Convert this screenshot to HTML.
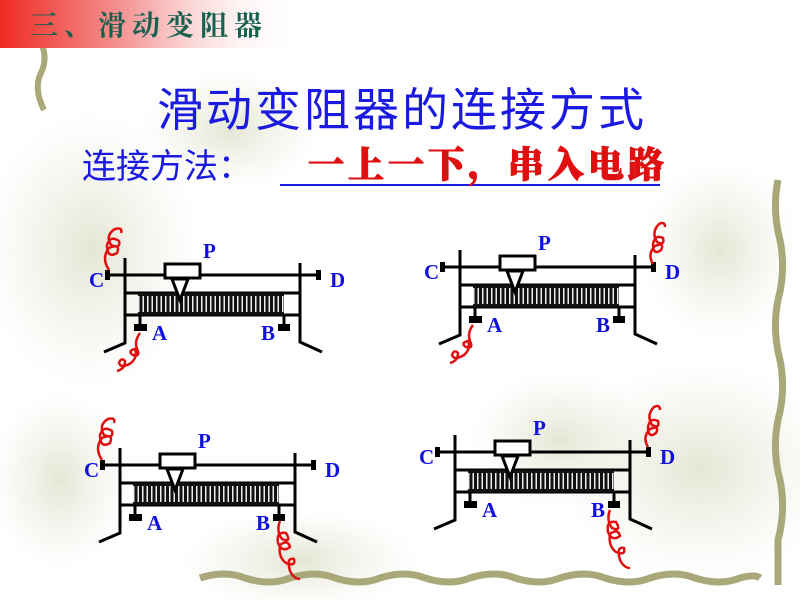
<!DOCTYPE html>
<html><head><meta charset="utf-8"><style>
html,body{margin:0;padding:0;width:800px;height:600px;overflow:hidden;background:#fff}
svg{display:block}
</style></head><body>
<svg width="800" height="600" viewBox="0 0 800 600" xmlns="http://www.w3.org/2000/svg">
<defs>
<linearGradient id="bar" x1="0" x2="1" y1="0" y2="0">
<stop offset="0" stop-color="#ee2a22"/><stop offset="0.45" stop-color="#f6a0a0"/><stop offset="1" stop-color="#ffffff" stop-opacity="0"/>
</linearGradient>
<radialGradient id="blob"><stop offset="0" stop-color="#d8dbc2" stop-opacity="0.7"/><stop offset="1" stop-color="#e6e8d8" stop-opacity="0"/></radialGradient>
<pattern id="coil" width="4.5" height="24" patternUnits="userSpaceOnUse"><rect width="4.5" height="24" fill="#eee"/><rect width="3" height="24" fill="#111"/></pattern>
<g id="rh">
<path d="M125 258 V343 L104 352" fill="none" stroke="#000" stroke-width="3"/>
<path d="M300 263 V342 L322 352" fill="none" stroke="#000" stroke-width="3"/>
<line x1="108" y1="275" x2="318" y2="275" stroke="#000" stroke-width="3"/>
<rect x="105" y="270" width="5" height="10" fill="#000"/>
<rect x="316" y="270" width="5" height="10" fill="#000"/>
<line x1="125" y1="293" x2="300" y2="293" stroke="#000" stroke-width="3"/>
<line x1="125" y1="315" x2="300" y2="315" stroke="#000" stroke-width="3"/>
<rect x="138" y="293" width="146" height="22" fill="url(#coil)"/>
<rect x="138" y="293" width="146" height="3" fill="#111"/>
<rect x="138" y="312" width="146" height="3" fill="#111"/>
<rect x="165" y="264" width="35" height="14" fill="#fff" stroke="#000" stroke-width="3"/>
<path d="M172 279 L188 279 L180 300 Z" fill="#fff" stroke="#000" stroke-width="3"/>
<line x1="140" y1="315" x2="140" y2="324" stroke="#000" stroke-width="3"/>
<rect x="134" y="324" width="13" height="7" fill="#000"/>
<line x1="284" y1="315" x2="284" y2="324" stroke="#000" stroke-width="3"/>
<rect x="278" y="324" width="12" height="7" fill="#000"/>
<g font-family="'Liberation Serif',serif" font-weight="bold" font-size="21" fill="#1010e0">
<text x="89" y="287">C</text><text x="330" y="287">D</text>
<text x="203" y="258">P</text><text x="152" y="340">A</text><text x="261" y="340">B</text>
</g>
</g>
</defs>
<ellipse cx="90" cy="250" rx="110" ry="140" fill="url(#blob)"/>
<ellipse cx="230" cy="130" rx="90" ry="60" fill="url(#blob)"/>
<ellipse cx="60" cy="480" rx="70" ry="90" fill="url(#blob)"/>
<ellipse cx="700" cy="470" rx="140" ry="110" fill="url(#blob)"/>
<ellipse cx="560" cy="440" rx="90" ry="70" fill="url(#blob)"/>
<ellipse cx="720" cy="250" rx="80" ry="90" fill="url(#blob)"/>
<ellipse cx="300" cy="560" rx="120" ry="50" fill="url(#blob)"/>
<path d="M42 45 q6 15 -2 30 q-6 15 4 35" fill="none" stroke="#a8a878" stroke-width="6"/>
<path d="M778 180 q-6 30 2 60 q6 30 -2 60 q-6 30 2 60 q6 30 -2 60 q-6 30 2 60 q6 30 -2 60 l0 45" fill="none" stroke="#a8a878" stroke-width="7"/>
<path d="M200 578 q25 -8 45 0 q25 8 45 0 q25 -8 45 0 q25 8 45 0 q25 -8 45 0 q25 8 45 0 q25 -8 45 0 q25 8 45 0 q25 -8 45 0 q25 8 45 0 q25 -8 45 0 q25 8 45 0 q15 -4 20 0" fill="none" stroke="#a8a878" stroke-width="7"/>
<rect x="0" y="0" width="300" height="48" fill="url(#bar)"/>
<text x="30" y="35" font-family="'Liberation Serif','Noto Serif CJK SC',serif" font-weight="bold" font-size="28" fill="#15604f" letter-spacing="6">三、滑动变阻器</text>
<text x="157" y="126" font-family="'Liberation Sans','Noto Sans CJK SC',sans-serif" font-size="46" fill="#1a1ae0" letter-spacing="3">滑动变阻器的连接方式</text>
<text x="82" y="178" font-family="'Liberation Sans','Noto Sans CJK SC',sans-serif" font-size="34" fill="#1a1ae0">连接方法：</text>
<line x1="280" y1="185" x2="660" y2="185" stroke="#1a1ae0" stroke-width="2"/>
<text x="308" y="177" font-family="'Liberation Serif','Noto Serif CJK SC',serif" font-weight="900" font-size="36" fill="#e01010" stroke="#e01010" stroke-width="1" letter-spacing="4">一上一下，串入电路</text>
<use href="#rh"/>
<use href="#rh" transform="translate(335,-8)"/>
<use href="#rh" transform="translate(-5,190)"/>
<use href="#rh" transform="translate(330,177)"/>
<g fill="none" stroke="#e01010" stroke-width="2.5">
<path d="M109 270 q-8 -12 0 -22 q12 -5 8 5 q-10 6 -10 -8 q3 -10 12 -4 q2 8 -8 4 q-6 -10 4 -16 q8 -2 6 4"/>
<path d="M140 333 q-6 8 -3 16 q4 8 -4 6 q-6 -4 2 -6 q3 8 -4 14 q-10 6 -12 0 q2 -6 6 -2 q0 8 -8 10"/>
<path d="M653 264 q-6 -10 2 -18 q10 -4 6 4 q-8 6 -8 -6 q2 -10 10 -6 q2 8 -6 4 q-6 -10 2 -18 q6 -3 6 3"/>
<path d="M473 325 q-6 8 -3 16 q4 8 -4 6 q-6 -4 2 -6 q3 8 -4 14 q-10 6 -12 0 q2 -6 6 -2 q0 8 -8 10"/>
<path d="M102 460 q-8 -12 0 -22 q12 -5 8 5 q-10 6 -10 -8 q3 -10 12 -4 q2 8 -8 4 q-6 -10 4 -16 q8 -2 6 4"/>
<path d="M280 521 q-4 10 2 18 q10 4 4 -6 q-10 -2 -8 10 q4 10 12 4 q-2 -8 -10 -2 q-2 12 6 18 q10 4 8 -4 q-8 -2 -4 12 q4 8 10 8"/>
<path d="M648 447 q-6 -10 2 -18 q10 -4 6 4 q-8 6 -8 -6 q2 -10 10 -6 q2 8 -6 4 q-6 -10 2 -18 q6 -3 6 3"/>
<path d="M610 510 q-4 10 2 18 q10 4 4 -6 q-10 -2 -8 10 q4 10 12 4 q-2 -8 -10 -2 q-2 12 6 18 q10 4 8 -4 q-8 -2 -4 12 q4 8 10 8"/>
</g>
</svg>
</body></html>
